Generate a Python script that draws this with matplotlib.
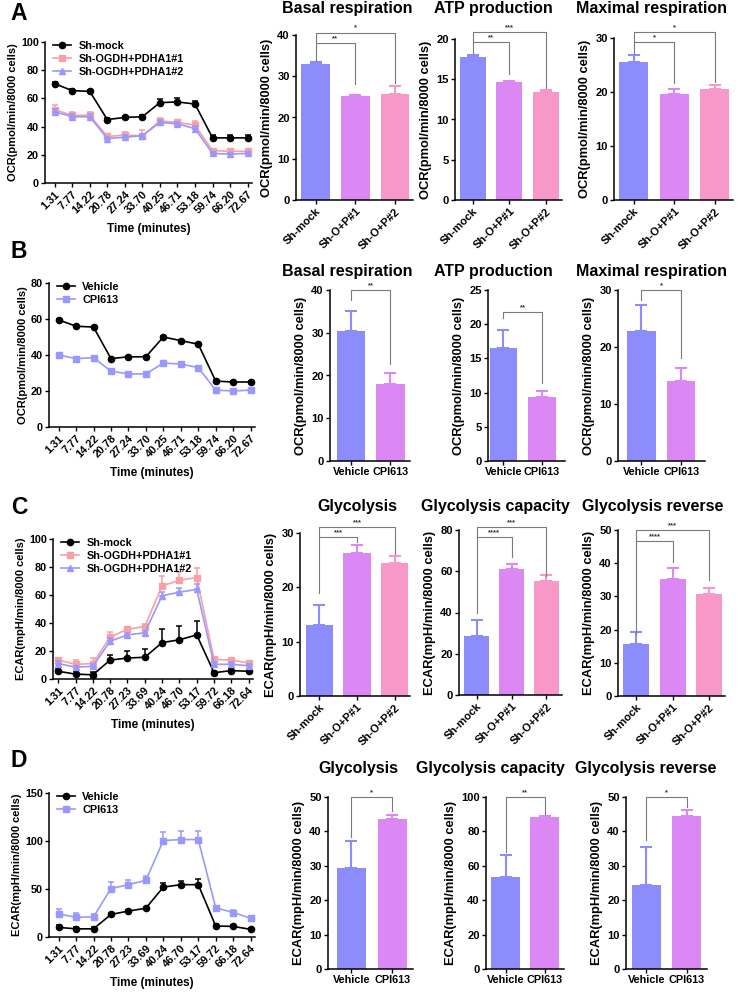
import numpy as np
import matplotlib
matplotlib.use('Agg')
import matplotlib.pyplot as plt

plt.rcParams['font.family'] = ['Liberation Sans', 'DejaVu Sans']
plt.rcParams['font.weight'] = 'bold'
plt.rcParams['axes.labelweight'] = 'bold'

W, H = 738, 1005

# ---------------- data ----------------
time_ab = ['1.31', '7.77', '14.22', '20.78', '27.24', '33.70', '40.25', '46.71',
           '53.18', '59.74', '66.20', '72.67']
time_cd = ['1.31', '7.77', '14.22', '20.78', '27.23', '33.69', '40.24', '46.70',
           '53.17', '59.72', '66.18', '72.64']

groups3 = ['Sh-mock', 'Sh-O+P#1', 'Sh-O+P#2']
groups2 = ['Vehicle', 'CPI613']
names3 = ['Sh-mock', 'Sh-OGDH+PDHA1#1', 'Sh-OGDH+PDHA1#2']
names2 = ['Vehicle', 'CPI613']

# Panel A line (OCR)
a_mock = [70.5, 65.5, 65, 45, 46.5, 47, 57, 57.5, 56, 32, 32, 32]
a_mock_err = [1, 1, 1, 1, 1, 1, 2.5, 2.5, 2, 2, 2, 2]
a_p1 = [52, 48, 48, 33, 34, 33.5, 44, 43, 41, 23, 22.5, 22.5]
a_p1_err = [3, 2, 2, 2, 2, 4, 2, 2, 3, 1, 1, 1]
a_p2 = [50.5, 47, 47, 31.5, 32.5, 33.5, 43, 42, 38.5, 21, 20.5, 21]
a_p2_err = [2, 2, 2, 1, 1.5, 1.5, 1.5, 1.5, 2, 1, 1, 1]

# Panel B line (OCR)
b_veh = [59.5, 56, 55.5, 38, 39, 39, 50, 48, 46, 25.5, 25, 25]
b_veh_err = [0.5] * 12
b_cpi = [40, 38, 38.5, 31, 29.5, 29.5, 35.5, 35, 33, 20.5, 20, 20.5]
b_cpi_err = [0.5] * 12

# Panel C line (ECAR)
c_mock = [5.5, 3.5, 3, 13.5, 15, 15.5, 26, 28, 31.5, 4.5, 6, 5.5]
c_mock_err = [2, 2, 2, 4, 5, 6, 9.5, 10, 10, 1.5, 1, 1.5]
c_p1 = [13.5, 10.5, 11, 30, 35.5, 37.5, 66.5, 70.5, 72.5, 14, 13.5, 11.5]
c_p1_err = [1, 3, 4, 3.5, 2, 2, 7, 6, 6.5, 1, 1, 1]
c_p2 = [11, 8.5, 9, 27, 31.5, 33, 59.5, 62, 64, 10.5, 10.5, 9.5]
c_p2_err = [2, 1, 2, 2, 1.5, 1.5, 2.5, 3, 4, 1.5, 1.5, 1.5]

# Panel D line (ECAR)
d_veh = [10, 8.5, 8.5, 23.5, 27, 30, 52, 54.5, 54.5, 11.5, 11, 8]
d_veh_err = [3, 2, 2, 1, 1, 1, 4, 4, 6, 2, 1, 1]
d_cpi = [24, 20.5, 21, 50.5, 54.5, 59, 100.5, 101.5, 101.5, 30.5, 25.5, 19.5]
d_cpi_err = [5, 4, 3, 7, 5, 5, 9, 9, 9, 2, 3, 2]

# Bar panels
a_basal = [33.0, 25.2, 25.8]; a_basal_err = [0.4, 0.2, 1.8]
a_atp = [17.8, 14.7, 13.4]; a_atp_err = [0.2, 0.1, 0.3]
a_max = [25.5, 19.7, 20.6]; a_max_err = [1.3, 0.9, 0.7]

b_basal = [30.3, 18.0]; b_basal_err = [4.8, 2.7]
b_atp = [16.5, 9.3]; b_atp_err = [2.7, 1.0]
b_max = [22.8, 14.0]; b_max_err = [4.5, 2.3]

c_gly = [13.0, 26.3, 24.4]; c_gly_err = [3.8, 1.4, 1.3]
c_cap = [28.7, 61.3, 55.2]; c_cap_err = [7.5, 2.3, 2.8]
c_rev = [15.7, 35.2, 30.8]; c_rev_err = [3.7, 3.4, 1.8]

d_gly = [29.4, 43.5]; d_gly_err = [7.8, 1.4]
d_cap = [53.5, 88.3]; d_cap_err = [12.8, 0.5]
d_rev = [24.3, 44.6]; d_rev_err = [11.2, 1.6]

# significance labels
sig_a_basal = ['**', '*']
sig_a_atp = ['**', '***']
sig_a_max = ['*', '*']
sig_b = ['**', '**', '*']
sig_c_gly = ['***', '***']
sig_c_cap = ['****', '***']
sig_c_rev = ['****', '***']
sig_d = ['*', '**', '*']

# ---------------- styles ----------------
BLACK = '#000000'
PINK_L = '#F7A0A5'
BLUE_L = '#9898FF'
BAR_COLORS = ['#8C8CFC', '#DC88F4', '#F898C8']
BRK = '#7A7A7A'

fig = plt.figure(figsize=(W / 100, H / 100), dpi=100)


def add_ax(x0, x1, yt, yb):
    return fig.add_axes([x0 / W, 1 - yb / H, (x1 - x0) / W, (yb - yt) / H])


def style(ax, ls):
    for s in ['top', 'right']:
        ax.spines[s].set_visible(False)
    for s in ['left', 'bottom']:
        ax.spines[s].set_linewidth(1.1)
    ax.tick_params(width=1.0, length=3, labelsize=ls, pad=1.5)


def line_panel(ax, labels, series, ymax, ystep, ylabel, xl):
    x = np.arange(len(labels))
    for name, vals, errs, color, marker in series:
        errs = np.asarray(errs)
        ax.errorbar(x, vals, yerr=[np.zeros_like(errs), errs], fmt='none',
                    ecolor=color, capsize=2.5, elinewidth=1.1, capthick=1.1,
                    clip_on=False)
        ax.plot(x, vals, color=color, marker=marker, ms=4.5, lw=1.2,
                label=name, clip_on=False)
    style(ax, 7.8)
    ax.set_xlim(xl, len(labels) - 0.75)
    ax.set_ylim(0, ymax)
    ax.set_yticks(np.arange(0, ymax + 1, ystep))
    ax.set_xticks(x)
    ax.set_xticklabels(labels, rotation=45, ha='right', rotation_mode='anchor')
    ax.set_ylabel(ylabel, fontsize=8, labelpad=2)
    ax.set_xlabel('Time (minutes)', fontsize=8.5, labelpad=5)
    ax.legend(loc='upper left', frameon=False, fontsize=7.8,
              handlelength=1.6, handletextpad=0.7, borderaxespad=0.0,
              labelspacing=0.3, bbox_to_anchor=(0.02, 1.04))


def bar_panel(ax, cats, vals, errs, ymax, ystep, ylabel, brackets, rot, xl, xr):
    x = np.arange(len(cats))
    cols = BAR_COLORS[:len(cats)]
    ax.bar(x, vals, width=0.72, color=cols, edgecolor='none', zorder=2)
    for xi, v, e, c in zip(x, vals, errs, cols):
        ax.errorbar(xi, v, yerr=[[0], [e]], color=c, capsize=4.5,
                    elinewidth=1.5, capthick=1.5, zorder=3)
    style(ax, 8)
    ax.set_xlim(xl, xr)
    ax.set_ylim(0, ymax)
    ax.set_yticks(np.arange(0, ymax + 0.01, ystep))
    ax.set_xticks(x)
    if rot:
        ax.set_xticklabels(cats, rotation=45, ha='right', rotation_mode='anchor',
                           fontsize=8)
    else:
        ax.set_xticklabels(cats, fontsize=7.8)
    ax.set_ylabel(ylabel, fontsize=9.3, labelpad=3)
    for (i, j, yh, yl, yr, lab) in brackets:
        ax.plot([i, i, j, j], [yl, yh, yh, yr], color=BRK, lw=0.8,
                clip_on=False, zorder=4)
        ax.text((i + j) / 2, yh + ymax * 0.005, lab, ha='center', va='bottom',
                fontsize=5.5, color='#333333')


OCR = 'OCR(pmol/min/8000 cells)'
ECAR = 'ECAR(mpH/min/8000 cells)'

# ---------------- Panel A ----------------
ax = add_ax(45, 252, 42, 183)
line_panel(ax, time_ab,
           [(names3[0], a_mock, a_mock_err, BLACK, 'o'),
            (names3[1], a_p1, a_p1_err, PINK_L, 's'),
            (names3[2], a_p2, a_p2_err, BLUE_L, '^')],
           100, 20, OCR, -0.55)

ax = add_ax(296, 413, 35, 200)
bar_panel(ax, groups3, a_basal, a_basal_err, 40, 10, OCR,
          [(0, 1, 38.0, 33.8, 28.0, sig_a_basal[0]),
           (0, 2, 40.6, 38.0, 28.3, sig_a_basal[1])], True, -0.49, 2.45)
ax = add_ax(455, 562, 39, 200)
bar_panel(ax, groups3, a_atp, a_atp_err, 20, 5, OCR,
          [(0, 1, 19.6, 18.3, 15.6, sig_a_atp[0]),
           (0, 2, 20.9, 19.6, 13.9, sig_a_atp[1])], True, -0.49, 2.45)
ax = add_ax(614, 733, 38, 200)
bar_panel(ax, groups3, a_max, a_max_err, 30, 10, OCR,
          [(0, 1, 29.2, 27.3, 21.6, sig_a_max[0]),
           (0, 2, 31.1, 29.2, 21.9, sig_a_max[1])], True, -0.49, 2.45)

# ---------------- Panel B ----------------
ax = add_ax(49, 255, 283, 427)
line_panel(ax, time_ab,
           [(names2[0], b_veh, b_veh_err, BLACK, 'o'),
            (names2[1], b_cpi, b_cpi_err, BLUE_L, 's')],
           80, 20, OCR, -0.55)

ax = add_ax(330, 410, 290, 461)
bar_panel(ax, groups2, b_basal, b_basal_err, 40, 10, OCR,
          [(0, 1, 40.0, 37.6, 22.8, sig_b[0])], False, -0.54, 1.5)
ax = add_ax(488, 565, 290, 461)
bar_panel(ax, groups2, b_atp, b_atp_err, 25, 5, OCR,
          [(0, 1, 21.8, 20.9, 11.4, sig_b[1])], False, -0.4, 1.6)
ax = add_ax(618, 705, 290, 461)
bar_panel(ax, groups2, b_max, b_max_err, 30, 10, OCR,
          [(0, 1, 30.0, 28.2, 18.0, sig_b[2])], False, -0.59, 1.6)

# ---------------- Panel C ----------------
ax = add_ax(53, 253, 539, 679)
line_panel(ax, time_cd,
           [(names3[0], c_mock, c_mock_err, BLACK, 'o'),
            (names3[1], c_p1, c_p1_err, PINK_L, 's'),
            (names3[2], c_p2, c_p2_err, BLUE_L, '^')],
           100, 20, ECAR, -0.3)

ax = add_ax(300, 410, 533, 696)
bar_panel(ax, groups3, c_gly, c_gly_err, 30, 10, ECAR,
          [(0, 1, 29.3, 18.9, 28.3, sig_c_gly[0]),
           (0, 2, 31.1, 29.3, 26.2, sig_c_gly[1])], True, -0.51, 2.4)
ax = add_ax(459, 562, 530, 695)
bar_panel(ax, groups3, c_cap, c_cap_err, 80, 20, ECAR,
          [(0, 1, 76.8, 39.7, 67.0, sig_c_cap[0]),
           (0, 2, 81.6, 76.8, 57.5, sig_c_cap[1])], True, -0.51, 2.45)
ax = add_ax(618, 725, 530, 696)
bar_panel(ax, groups3, c_rev, c_rev_err, 50, 10, ECAR,
          [(0, 1, 46.7, 18.8, 40.5, sig_c_rev[0]),
           (0, 2, 50.0, 46.7, 34.9, sig_c_rev[1])], True, -0.51, 2.45)

# ---------------- Panel D ----------------
ax = add_ax(49, 255, 793, 937)
line_panel(ax, time_cd,
           [(names2[0], d_veh, d_veh_err, BLACK, 'o'),
            (names2[1], d_cpi, d_cpi_err, BLUE_L, 's')],
           150, 50, ECAR, -0.55)

ax = add_ax(328, 413, 797, 969)
bar_panel(ax, groups2, d_gly, d_gly_err, 50, 10, ECAR,
          [(0, 1, 50.0, 38.5, 45.8, sig_d[0])], False, -0.57, 1.5)
ax = add_ax(486, 564, 797, 969)
bar_panel(ax, groups2, d_cap, d_cap_err, 100, 20, ECAR,
          [(0, 1, 100.0, 68.0, 90.0, sig_d[1])], False, -0.5, 1.5)
ax = add_ax(626, 707, 797, 969)
bar_panel(ax, groups2, d_rev, d_rev_err, 50, 10, ECAR,
          [(0, 1, 50.0, 37.5, 47.0, sig_d[2])], False, -0.5, 1.5)

# ---------------- titles & letters ----------------
def ftext(x, y, s, **kw):
    fig.text(x / W, 1 - y / H, s, ha='center', va='center', fontweight='bold', **kw)

for (x, y, s) in [(347, 8, 'Basal respiration'), (493, 8, 'ATP production'),
                  (651, 8, 'Maximal respiration'),
                  (347, 271, 'Basal respiration'), (493, 271, 'ATP production'),
                  (651, 271, 'Maximal respiration'),
                  (357, 507, 'Glycolysis'), (495, 507, 'Glycolysis capacity'),
                  (653, 507, 'Glycolysis reverse'),
                  (358, 769, 'Glycolysis'), (490, 769, 'Glycolysis capacity'),
                  (646, 769, 'Glycolysis reverse')]:
    ftext(x, y, s, fontsize=11.5)

for (x, y, s) in [(19, 14, 'A'), (19, 251, 'B'), (19, 507, 'C'), (19, 760, 'D')]:
    ftext(x, y, s, fontsize=16.5)

fig.savefig('out.png', dpi=100)
